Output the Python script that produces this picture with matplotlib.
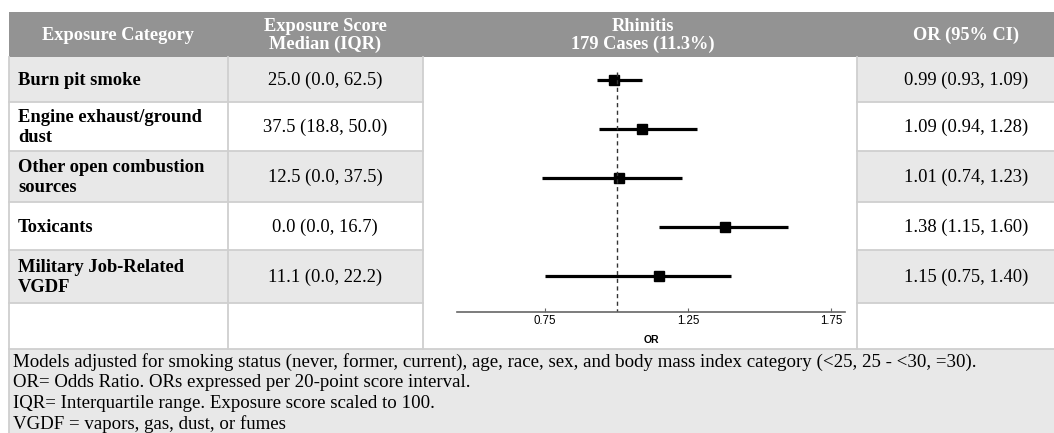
"""Forest-plot table: rhinitis odds ratios by exposure category."""

import matplotlib

matplotlib.use("Agg")
import matplotlib.pyplot as plt
from matplotlib.patches import Rectangle

categories = [
    "Burn pit smoke",
    "Engine exhaust/ground\ndust",
    "Other open combustion\nsources",
    "Toxicants",
    "Military Job-Related\nVGDF",
]
exposure_scores = [
    "25.0 (0.0, 62.5)",
    "37.5 (18.8, 50.0)",
    "12.5 (0.0, 37.5)",
    "0.0 (0.0, 16.7)",
    "11.1 (0.0, 22.2)",
]
odds_ratios = [0.99, 1.09, 1.01, 1.38, 1.15]
ci_lower = [0.93, 0.94, 0.74, 1.15, 0.75]
ci_upper = [1.09, 1.28, 1.23, 1.60, 1.40]
x_ticks = [0.75, 1.25, 1.75]
headers = [
    "Exposure Category",
    "Exposure Score\nMedian (IQR)",
    "Rhinitis\n179 Cases (11.3%)",
    "OR (95% CI)",
]
footnotes = [
    "Models adjusted for smoking status (never, former, current), age, race, sex, "
    "and body mass index category (<25, 25 - <30, =30).",
    "OR= Odds Ratio. ORs expressed per 20-point score interval.",
    "IQR= Interquartile range. Exposure score scaled to 100.",
    "VGDF = vapors, gas, dust, or fumes",
]

# layout in pixels (figure is 1054 x 433 at dpi 100)
W, H = 1054, 433
HEADER_TOP, HEADER_BOTTOM = 12, 57
ROW_EDGES = [57, 102, 151, 202, 250, 303, 349]
COL_EDGES = [9, 228, 423, 857, 1054]
TEXT_CENTERS = [118, 325, 643, 966]
HEADER_GRAY = "#939393"
ROW_GRAY = "#e8e8e8"
BORDER = "#cfcfcf"
SERIF = ["Liberation Serif", "DejaVu Serif"]
SANS = ["Liberation Sans", "DejaVu Sans"]

fig = plt.figure(figsize=(W / 100, H / 100), dpi=100, facecolor="white")
base = fig.add_axes([0, 0, 1, 1])
base.set_xlim(0, W)
base.set_ylim(H, 0)
base.axis("off")

# header band
base.add_patch(Rectangle((COL_EDGES[0], HEADER_TOP), W - COL_EDGES[0],
                         HEADER_BOTTOM - HEADER_TOP, color=HEADER_GRAY, lw=0))
for label, x in zip(headers, TEXT_CENTERS):
    base.text(x, (HEADER_TOP + HEADER_BOTTOM) / 2 + 1, label, ha="center",
              va="center", color="white", fontsize=13.2, fontweight="bold",
              family=SERIF, linespacing=1.1)

# table body: alternating row shading in the text columns
n_rows = len(ROW_EDGES) - 1
for i in range(n_rows):
    top, bottom = ROW_EDGES[i], ROW_EDGES[i + 1]
    shade = ROW_GRAY if i % 2 == 0 and i < len(categories) else "white"
    for left, right in [(COL_EDGES[0], COL_EDGES[2]), (COL_EDGES[3], W)]:
        base.add_patch(Rectangle((left, top), right - left, bottom - top,
                                 color=shade, lw=0))
    if i > 0:
        base.plot([COL_EDGES[0], COL_EDGES[2]], [top, top], color=BORDER, lw=1.3)
        base.plot([COL_EDGES[3], W], [top, top], color=BORDER, lw=1.3)
for x in [COL_EDGES[0], COL_EDGES[1], COL_EDGES[2], COL_EDGES[3]]:
    base.plot([x, x], [HEADER_BOTTOM, ROW_EDGES[-1]], color=BORDER, lw=1.3)

for i, (cat, score) in enumerate(zip(categories, exposure_scores)):
    yc = (ROW_EDGES[i] + ROW_EDGES[i + 1]) / 2 + 1
    base.text(18, yc, cat, ha="left", va="center", fontsize=13.3,
              fontweight="bold", family=SERIF, linespacing=1.2)
    base.text(TEXT_CENTERS[1], yc, score, ha="center", va="center",
              fontsize=13.3, family=SERIF)
    or_text = f"{odds_ratios[i]:.2f} ({ci_lower[i]:.2f}, {ci_upper[i]:.2f})"
    base.text(TEXT_CENTERS[3], yc, or_text, ha="center", va="center",
              fontsize=13.3, family=SERIF)

# footnote band
base.add_patch(Rectangle((COL_EDGES[0], ROW_EDGES[-1]), W - COL_EDGES[0],
                         H - ROW_EDGES[-1], color=ROW_GRAY, lw=0))
base.plot([COL_EDGES[0], W], [ROW_EDGES[-1], ROW_EDGES[-1]], color=BORDER, lw=1.3)
base.plot([COL_EDGES[0], COL_EDGES[0]], [ROW_EDGES[-1], H], color=BORDER, lw=1.3)
for k, note in enumerate(footnotes):
    base.text(13, 362 + 20.8 * k, note, ha="left", va="center", fontsize=13.6,
              family=SERIF)

# forest plot
ax_left, ax_right, ax_top, ax_bottom = 457, 845, 60, 312
row_y0, row_step = 80, 49
forest = fig.add_axes([ax_left / W, (H - ax_bottom) / H,
                       (ax_right - ax_left) / W, (ax_bottom - ax_top) / H])
forest.patch.set_alpha(0)
ys = list(range(len(odds_ratios)))
forest.hlines(ys, ci_lower, ci_upper, color="black", lw=2.3)
forest.plot(odds_ratios, ys, "s", color="black", ms=6.5)
forest.plot([1, 1], [-(row_y0 - 72) / row_step, (ax_bottom - row_y0) / row_step],
            color="#333333", lw=1, ls=(0, (3, 2.5)))
forest.set_xlim(0.442, 1.799)
forest.set_ylim((ax_bottom - row_y0) / row_step, -(row_y0 - ax_top) / row_step)
for side in ["top", "right", "left"]:
    forest.spines[side].set_visible(False)
forest.spines["bottom"].set_color("#666666")
forest.spines["bottom"].set_linewidth(1.2)
forest.set_yticks([])
forest.set_xticks(x_ticks)
forest.set_xticklabels([f"{t:.2f}" for t in x_ticks], family=SANS, fontsize=8.3)
forest.tick_params(axis="x", direction="in", length=3, color="#666666", pad=2)
forest.set_xlabel("OR", family=SANS, fontsize=7.5, fontweight="bold", labelpad=6)

fig.savefig("out.png", dpi=100, facecolor="white")
